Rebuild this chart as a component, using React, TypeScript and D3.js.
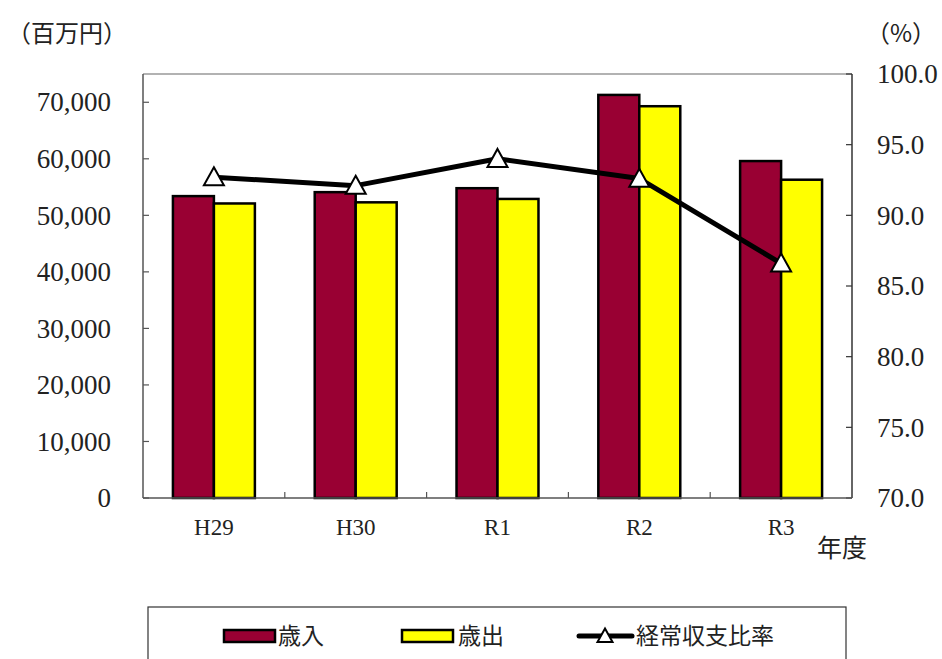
import React from "react";
import * as d3 from "d3";

// 年度別 歳入・歳出（百万円）と経常収支比率（%）
const years = ["H29", "H30", "R1", "R2", "R3"];
const revenue = [53400, 54100, 54800, 71300, 59600];
const expenditure = [52100, 52300, 52900, 69300, 56300];
const ratio = [92.7, 92.1, 94.0, 92.6, 86.6];
const leftTicks = [0, 10000, 20000, 30000, 40000, 50000, 60000, 70000];
const rightTicks = [70, 75, 80, 85, 90, 95, 100];

const W = 942;
const H = 659;
const plot = { left: 143, right: 852, top: 74, bottom: 498 };

const numFont = "'Liberation Serif', 'DejaVu Serif', serif";
const jpFont = "'Noto Sans CJK JP', sans-serif";

const REV_COLOR = "#990033";
const EXP_COLOR = "#FFFF00";

function triPath(cx: number, cy: number, s: number) {
  const h = s * 0.9;
  return `M${cx},${cy - h * 0.55}L${cx + s / 2},${cy + h * 0.45}L${cx - s / 2},${cy + h * 0.45}Z`;
}

export default function App() {
  const x = d3.scaleBand<string>().domain(years).range([plot.left, plot.right]).padding(0);
  const yL = d3.scaleLinear().domain([0, 75000]).range([plot.bottom, plot.top]);
  const yR = d3.scaleLinear().domain([70, 100]).range([plot.bottom, plot.top]);
  const bw = x.bandwidth();
  const barW = bw * 0.289;
  const fmt = d3.format(",");

  const line = d3
    .line<number>()
    .x((_, i) => (x(years[i]) as number) + bw / 2)
    .y((d) => yR(d));

  const legendY = 636;

  return (
    <svg
      width={W}
      height={H}
      style={{ position: "absolute", left: 0, top: 0, background: "#fff" }}
    >
      <rect x={0} y={0} width={W} height={H} fill="#fff" />

      {/* unit labels */}
      <text x={7} y={42} fontFamily={jpFont} fontSize={24} fill="#222">
        （百万円）
      </text>
      <text x={936} y={42} fontFamily={jpFont} fontSize={24} fill="#222" textAnchor="end">
        （%）
      </text>

      {/* frame */}
      <line x1={plot.left} x2={plot.right} y1={plot.top} y2={plot.top} stroke="#999" strokeWidth={1.5} />
      <line x1={plot.left} x2={plot.left} y1={plot.top} y2={plot.bottom} stroke="#555" strokeWidth={1.5} />
      <line x1={plot.right} x2={plot.right} y1={plot.top} y2={plot.bottom} stroke="#333" strokeWidth={1.5} />

      {/* left axis */}
      {leftTicks.map((t) => (
        <g key={"l" + t}>
          <line x1={plot.left} x2={plot.left + 6} y1={yL(t)} y2={yL(t)} stroke="#555" strokeWidth={1.2} />
          <text
            x={111}
            y={yL(t)}
            dy="0.34em"
            textAnchor="end"
            fontFamily={numFont}
            fontSize={27}
            fill="#222"
          >
            {fmt(t)}
          </text>
        </g>
      ))}

      {/* right axis */}
      {rightTicks.map((t) => (
        <g key={"r" + t}>
          <line x1={plot.right - 6} x2={plot.right} y1={yR(t)} y2={yR(t)} stroke="#333" strokeWidth={1.2} />
          <text
            x={877}
            y={yR(t)}
            dy="0.34em"
            textAnchor="start"
            fontFamily={numFont}
            fontSize={27}
            fill="#222"
          >
            {t.toFixed(1)}
          </text>
        </g>
      ))}

      {/* bars */}
      {years.map((yr, i) => {
        const cx = (x(yr) as number) + bw / 2;
        return (
          <g key={yr}>
            <rect
              x={cx - barW}
              y={yL(revenue[i])}
              width={barW}
              height={yL(0) - yL(revenue[i])}
              fill={REV_COLOR}
              stroke="#000"
              strokeWidth={2.5}
            />
            <rect
              x={cx}
              y={yL(expenditure[i])}
              width={barW}
              height={yL(0) - yL(expenditure[i])}
              fill={EXP_COLOR}
              stroke="#000"
              strokeWidth={2.5}
            />
          </g>
        );
      })}

      {/* bottom axis */}
      <line x1={plot.left} x2={plot.right} y1={plot.bottom} y2={plot.bottom} stroke="#555" strokeWidth={1.5} />
      {years.slice(1).map((yr) => (
        <line
          key={"bt" + yr}
          x1={x(yr) as number}
          x2={x(yr) as number}
          y1={plot.bottom}
          y2={plot.bottom - 6}
          stroke="#555"
          strokeWidth={1.2}
        />
      ))}
      {years.map((yr) => (
        <text
          key={"bl" + yr}
          x={(x(yr) as number) + bw / 2}
          y={535}
          textAnchor="middle"
          fontFamily={numFont}
          fontSize={23}
          fill="#222"
        >
          {yr}
        </text>
      ))}
      <text x={817} y={557} fontFamily={jpFont} fontSize={25} fill="#222">
        年度
      </text>

      {/* ratio line */}
      <path d={line(ratio) || ""} fill="none" stroke="#000" strokeWidth={5} strokeLinejoin="round" />
      {ratio.map((r, i) => (
        <path
          key={"m" + i}
          d={triPath((x(years[i]) as number) + bw / 2, yR(r), 20)}
          fill="#fff"
          stroke="#000"
          strokeWidth={2}
          strokeLinejoin="miter"
        />
      ))}

      {/* legend */}
      <rect x={148} y={607} width={698} height={80} fill="#fff" stroke="#333" strokeWidth={1.2} />
      <rect x={224} y={legendY - 6} width={51} height={12} fill={REV_COLOR} stroke="#000" strokeWidth={2.5} />
      <text x={278} y={legendY} dy="0.36em" fontFamily={jpFont} fontSize={23} fill="#222">
        歳入
      </text>
      <rect x={402} y={legendY - 6} width={51} height={12} fill={EXP_COLOR} stroke="#000" strokeWidth={2.5} />
      <text x={458} y={legendY} dy="0.36em" fontFamily={jpFont} fontSize={23} fill="#222">
        歳出
      </text>
      <line x1={579} x2={632} y1={legendY} y2={legendY} stroke="#000" strokeWidth={5} strokeLinecap="round" />
      <path d={triPath(605, legendY, 15)} fill="#fff" stroke="#000" strokeWidth={2} />
      <text x={636} y={legendY} dy="0.36em" fontFamily={jpFont} fontSize={23} fill="#222">
        経常収支比率
      </text>
    </svg>
  );
}
